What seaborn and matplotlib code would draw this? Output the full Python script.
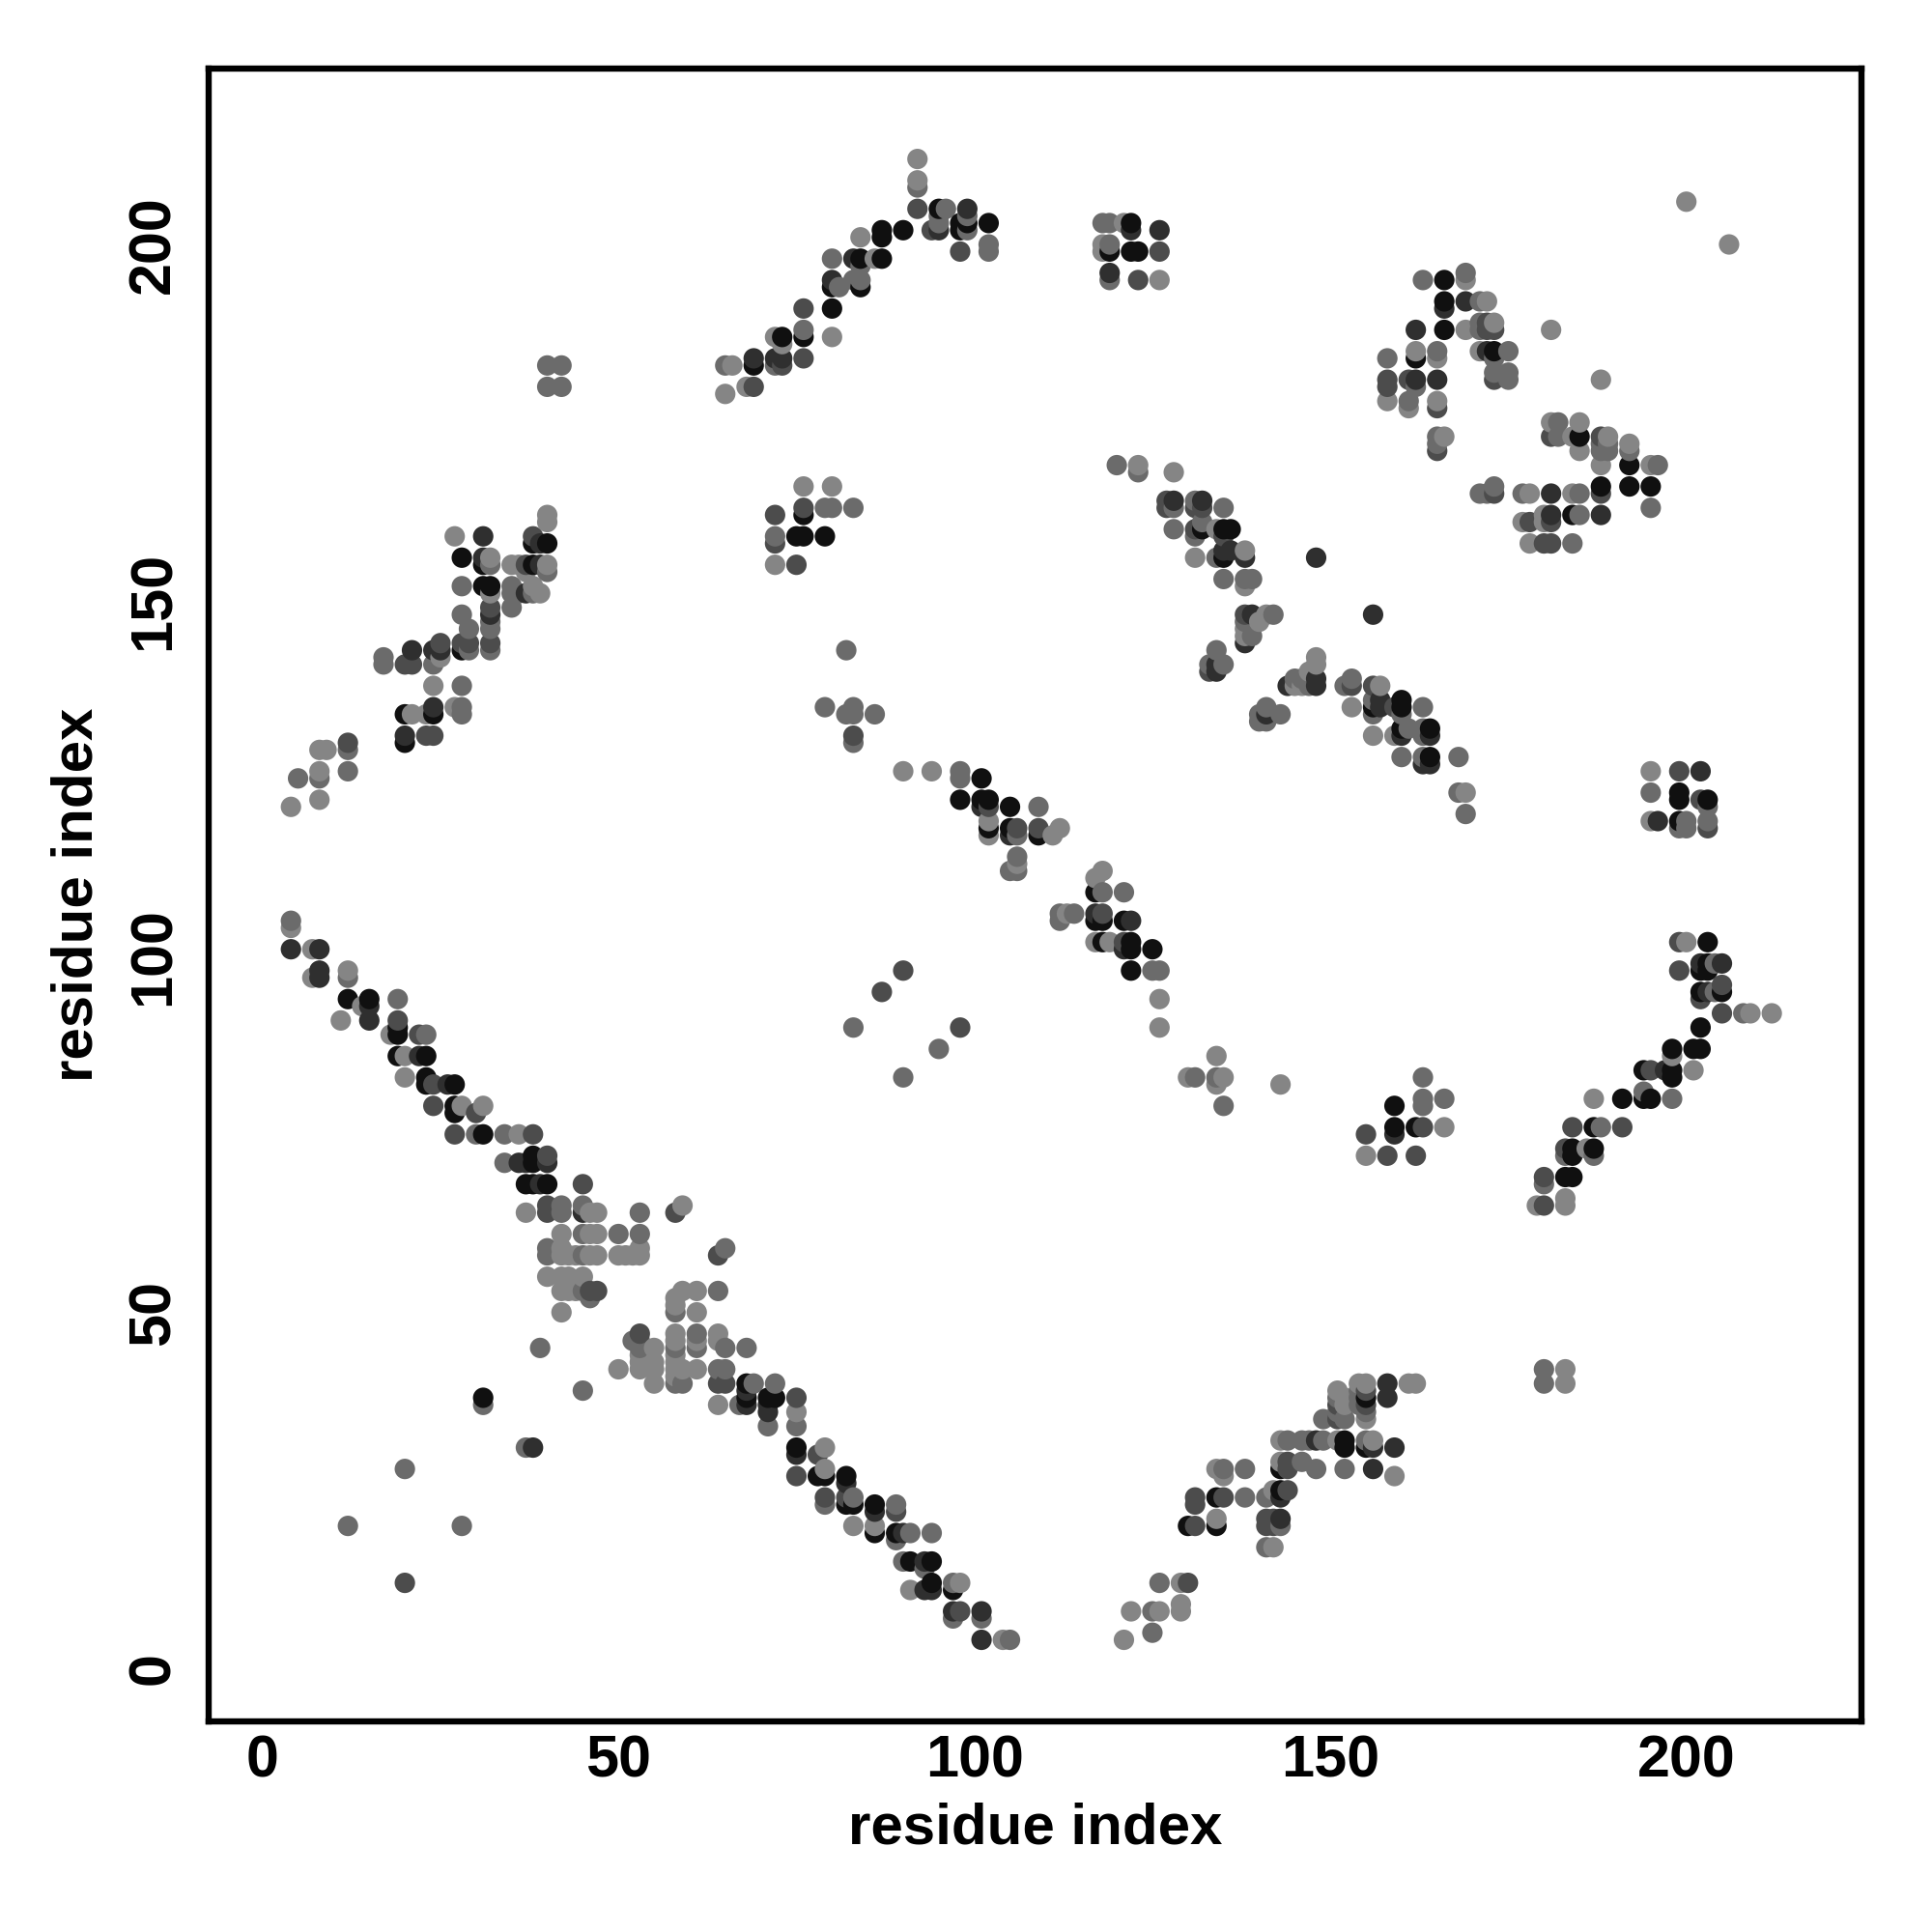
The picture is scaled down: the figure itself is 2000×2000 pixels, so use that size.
import matplotlib
matplotlib.use("Agg")
import matplotlib.pyplot as plt
import pandas as pd
import seaborn as sns

# contacts as (i, j), one list per grey level
black = [
    (12,94),(15,94),(19,90),(19,89),(19,86),(23,86),(23,83),(23,82),(27,82),(27,79),(27,78),(31,75),
    (38,72),(38,71),(37,68),(38,68),(40,68),(31,38),(68,38),(71,38),(72,38),(75,31),(78,27),(79,27),
    (82,27),(82,23),(83,23),(86,23),(86,19),(89,19),(91,15),(94,15),(94,12),(97,11),
    (20,130),(20,134),(24,134),(28,143),(32,152),(31,152),(31,155),(28,156),(38,155),(38,158),(40,158),
    (69,183),(73,187),(76,187),(80,191),(80,194),(84,198),(84,194),(87,198),(87,202),(87,201),(90,202),
    (95,205),(98,203),(98,202),(99,203),(102,203),(122,203),(119,199),(122,199),(123,199),
    (76,162),(75,159),(76,159),(79,159),(68,40),
    (132,160),(135,160),(136,160),(135,156),(156,135),(160,136),(160,135),(160,132),(164,132),(164,128),
    (166,195),(166,192),(166,188),(173,185),(162,184),(185,173),(192,169),
    (188,166),(192,166),(195,166),(184,162),(155,38),(152,32),(152,31),(155,31),(143,28),(143,25),
    (130,20),(134,20),(134,24),(159,79),(159,76),(162,76),(203,102),(203,99),(202,98),(203,98),(202,95),
    (205,95),(202,90),(201,87),(202,87),(198,87),(198,84),(198,83),(194,84),(194,80),(195,80),(191,80),
    (187,76),(184,73),(184,72),(187,73),(183,69),(184,69),(98,122),(105,121),(102,118),(105,118),(109,117),
    (117,109),(117,105),(118,105),(121,105),(118,102),(122,102),(122,101),(125,101),(122,98),(199,122),
    (199,119),(203,122),(101,125),(101,122),(102,122),(199,123),
]
dark = [
    (4,101),(8,101),(8,98),(8,97),(15,93),(15,91),(22,86),(26,82),(36,71),(37,71),(39,68),(45,64),
    (38,31),(40,71),(68,39),(68,37),(71,37),(71,36),(75,30),(82,26),(86,22),(90,19),(93,15),(93,11),
    (94,11),(97,8),(101,8),(101,4),(20,131),(24,135),(21,143),(24,143),(25,143),(31,159),(31,156),
    (32,148),(39,158),(39,155),(37,151),(69,184),(72,184),(73,184),(80,195),(83,198),(95,202),(99,205),
    (122,202),(126,202),(119,196),(128,164),(132,164),(135,157),(136,157),(138,156),(134,141),(141,134),
    (164,131),(160,131),(164,127),(163,127),(157,136),(157,135),(162,188),(169,192),(166,191),(172,185),
    (181,165),(181,162),(188,162),(165,181),(162,181),(156,28),(159,31),(156,31),(158,40),(158,38),
    (148,32),(143,24),(143,21),(202,99),(205,99),(203,95),(197,84),(101,121),(117,106),(122,105),(121,101),
    (196,119),(202,126),(105,117),(134,140),(139,148),(138,144),(148,139),(148,138),(144,138),(159,75),
    (148,156),(156,148),
]
mid = [
    (45,68),(40,65),(40,64),(46,53),(47,53),(38,75),(30,78),(27,75),(19,91),(22,89),(40,72),(24,82),(24,79),
    (64,58),(58,64),(53,47),(64,40),(65,40),(75,38),(75,27),(78,30),(79,24),(82,24),(89,22),(98,8),(131,24),
    (131,23),(131,20),(141,21),(141,20),(142,21),(142,20),(144,28),(144,25),(135,24),(130,12),(20,12),(87,95),
    (90,98),(83,131),(144,29),(12,130),(23,131),(24,131),(20,141),(21,141),(25,144),(28,144),(29,144),(32,149),
    (32,144),(37,155),(38,159),(69,180),(76,184),(73,183),(76,191),(92,205),(94,202),(98,199),(126,199),
    (123,195),(72,162),(76,163),(72,158),(75,155),(127,164),(127,163),(131,163),(132,163),(131,160),
    (135,159),(138,148),(133,140),(153,138),(156,138),(173,181),(158,181),(158,180),(161,181),
    (180,158),(181,158),(181,161),(178,161),(165,171),(165,177),(188,173),(188,165),(162,72),(158,72),(155,75),
    (163,76),(184,76),(191,76),(183,73),(180,69),(180,65),(205,92),(199,98),(205,96),(202,94),(195,84),(98,90),
    (155,37),(151,37),(151,35),(199,126),(203,118),(202,122),(106,118),(109,118),(121,102),(118,106),(102,121),
    (159,135),(173,165),(172,188),(173,188),(172,189),(181,173),(155,39),(199,102),
]
grey = [
    (4,105),(12,97),(19,94),(23,89),(34,75),(30,75),(34,71),(42,65),(42,64),(45,65),(45,61),(50,61),(53,64),
    (53,61),(40,59),(40,58),(45,58),(45,53),(46,52),(64,53),(58,50),(39,45),(45,39),(65,59),(53,45),(52,46),
    (53,46),(58,45),(61,45),(61,47),(64,42),(65,42),(65,45),(68,45),(69,40),(72,40),(67,37),(71,34),(75,34),
    (58,40),(59,40),(79,23),(83,24),(89,23),(89,18),(91,19),(90,15),(94,19),(93,14),(97,7),(97,12),(101,7),
    (105,4),(31,37),(37,31),(12,20),(20,28),(28,20),(5,125),(8,125),(12,129),(12,126),(17,142),(17,141),
    (24,141),(28,138),(28,135),(28,134),(29,143),(29,146),(28,148),(28,152),(32,147),(32,146),(32,143),
    (32,155),(35,152),(35,151),(35,149),(36,151),(40,154),(38,151),(40,183),(42,183),(40,180),(42,180),
    (65,183),(72,183),(80,198),(81,194),(84,197),(83,195),(84,195),(76,188),(92,208),(95,204),(95,203),
    (96,205),(99,204),(99,202),(102,199),(102,200),(118,203),(119,203),(119,200),(119,195),(79,163),(80,163),
    (83,163),(72,159),(120,169),(123,168),(128,163),(128,160),(131,164),(131,159),(132,161),(134,156),(135,163),
    (135,153),(138,153),(139,153),(142,148),(138,147),(139,145),(133,141),(134,143),(135,141),(140,134),(141,135),
    (143,134),(140,133),(141,133),(147,138),(145,139),(146,139),(152,138),(153,139),(156,136),(156,134),(163,135),
    (160,134),(161,132),(163,132),(163,131),(160,128),(163,128),(168,128),(168,123),(169,120),(163,195),
    (169,196),(171,192),(171,189),(171,188),(175,185),(173,184),(158,184),(165,185),(162,180),(173,182),(175,182),
    (175,181),(161,178),(165,173),(165,172),(182,175),(182,173),(189,172),(188,172),(188,171),(189,171),(192,171),
    (196,169),(195,163),(171,165),(172,165),(173,166),(177,165),(185,165),(185,162),(184,158),(149,35),(152,35),
    (151,38),(151,36),(154,38),(154,37),(155,36),(154,39),(146,32),(147,32),(149,32),(155,32),(143,20),(144,32),
    (146,29),(148,28),(152,28),(141,24),(138,24),(138,28),(135,28),(126,12),(125,5),(125,8),(141,17),(180,42),(180,40),
    (163,83),(163,80),(163,79),(166,80),(188,76),(187,72),(183,72),(180,68),(194,81),(198,80),(204,95),
    (204,99),(208,92),(203,121),(203,119),(199,118),(200,118),(200,119),(195,123),(82,143),(79,135),(83,135),
    (82,134),(83,134),(86,134),(83,130),(98,126),(98,125),(109,121),(106,114),(105,112),(106,112),(106,117),
    (112,106),(112,105),(114,106),(121,109),(118,109),(125,98),(126,98),(95,87),(83,90),
    (90,83),(131,83),(134,83),(135,79),
]
light = [
    (4,104),(7,101),(7,97),(12,98),(11,91),(14,93),(18,89),(20,86),(20,83),(28,79),(31,79),(36,75),(37,64),
    (46,64),(47,64),(42,61),(46,61),(47,61),(50,58),(51,58),(52,58),(53,58),(53,59),(59,65),(42,59),(42,58),
    (43,58),(44,58),(46,58),(47,58),(40,55),(42,55),(43,55),(45,55),(42,53),(43,53),(44,53),(45,53),(42,50),
    (58,52),(58,51),(59,53),(61,53),(61,50),(55,45),(53,44),(53,43),(53,42),(50,42),(55,43),(55,42),(55,40),
    (58,47),(58,46),(58,44),(58,43),(58,42),(58,41),(59,42),(61,46),(61,42),(64,47),(64,46),(64,37),
    (75,36),(79,31),(79,28),(83,20),(86,20),(91,11),(98,12),(104,4),(4,121),(8,122),(8,126),(8,129),(9,129),
    (21,134),(23,134),(24,138),(27,135),(25,142),(27,159),(32,156),(32,151),(35,155),(36,155),(40,155),(37,154),
    (38,152),(39,151),(40,162),(40,161),(65,179),(66,183),(68,180),(72,187),(73,186),(80,187),(84,201),(86,198),
    (92,212),(92,209),(121,203),(118,200),(118,199),(126,195),(76,166),(80,166),(72,155),(123,169),(128,168),
    (134,160),(131,156),(138,157),(138,152),(140,147),(141,148),(138,146),(138,145),(147,140),(148,142),(148,141),
    (145,138),(146,138),(153,135),(157,138),(156,131),(159,131),(169,123),(172,192),(169,195),(169,188),(173,189),
    (171,185),(162,185),(165,184),(158,178),(161,177),(165,178),(166,173),(181,188),(188,181),(181,175),(184,173),
    (185,175),(185,171),(189,173),(188,169),(192,172),(195,169),(178,165),(184,165),(180,162),(180,161),(177,161),
    (178,158),(200,206),(206,200),(161,40),(162,40),(154,40),(155,40),(155,35),(151,39),(152,38),(152,37),(151,32),
    (143,32),(156,32),(143,29),(159,27),(142,25),(135,27),(134,28),(134,21),(142,17),(129,12),(126,8),(129,9),(129,8),
    (122,8),(121,4),(183,42),(183,40),(155,72),(166,76),(187,80),(186,73),(179,65),(183,66),(183,65),(200,102),(201,84),
    (198,86),(209,92),(212,92),(195,126),(195,119),(90,126),(94,126),(102,119),(102,117),(111,117),(112,118),(106,113),
    (118,112),(117,111),(113,106),(117,102),(119,102),(126,94),(126,90),(130,83),(135,83),(134,86),(134,82),(143,82),
]

shade_colors = {"black": "#101010", "dark": "#2f2f2f", "mid": "#4c4c4c", "grey": "#6b6b6b", "light": "#858585"}
groups = {"black": black, "dark": dark, "mid": mid, "grey": grey, "light": light}

rows = []
for shade, pts in groups.items():
    for i, j in pts:
        rows.append({"i": i, "j": j, "shade": shade})
df = pd.DataFrame(rows).drop_duplicates(["i", "j"], keep="first")
# later residues sit on top in the original
df = df.sort_values(["i", "j"])

sns.set_theme(style="white")
plt.rcParams["font.family"] = ["Liberation Sans", "DejaVu Sans"]

fig = plt.figure(figsize=(10, 10), dpi=200)
ax = fig.add_axes([216 / 2000, 1 - 1782 / 2000, (1927 - 216) / 2000, (1782 - 71) / 2000])

sns.scatterplot(data=df, x="i", y="j", hue="shade", palette=shade_colors, s=58,
                linewidth=0, legend=False, ax=ax)

ax.set_xlim(-7.56, 224.6)
ax.set_ylim(-7.46, 224.7)
ax.set_xticks([0, 50, 100, 150, 200])
ax.set_yticks([0, 50, 100, 150, 200])
ax.tick_params(axis="x", length=0, labelsize=22, pad=5, labelcolor="black")
ax.tick_params(axis="y", length=0, labelsize=22, pad=10, labelcolor="black")
for lab in ax.get_xticklabels():
    lab.set_fontweight("bold")
for lab in ax.get_yticklabels():
    lab.set_fontweight("bold")
    lab.set_rotation(90)
    lab.set_va("center")
ax.set_xlabel("residue index", fontsize=21.6, fontweight="bold", color="black", va="center")
ax.set_ylabel("residue index", fontsize=21.6, fontweight="bold", color="black", va="center")
ax.xaxis.set_label_coords(0.5, -0.0649)
ax.yaxis.set_label_coords(-0.0797, 0.5)
for spine in ax.spines.values():
    spine.set_linewidth(2.3)
    spine.set_color("black")

plt.savefig("out.png", dpi=200)
plt.close()
